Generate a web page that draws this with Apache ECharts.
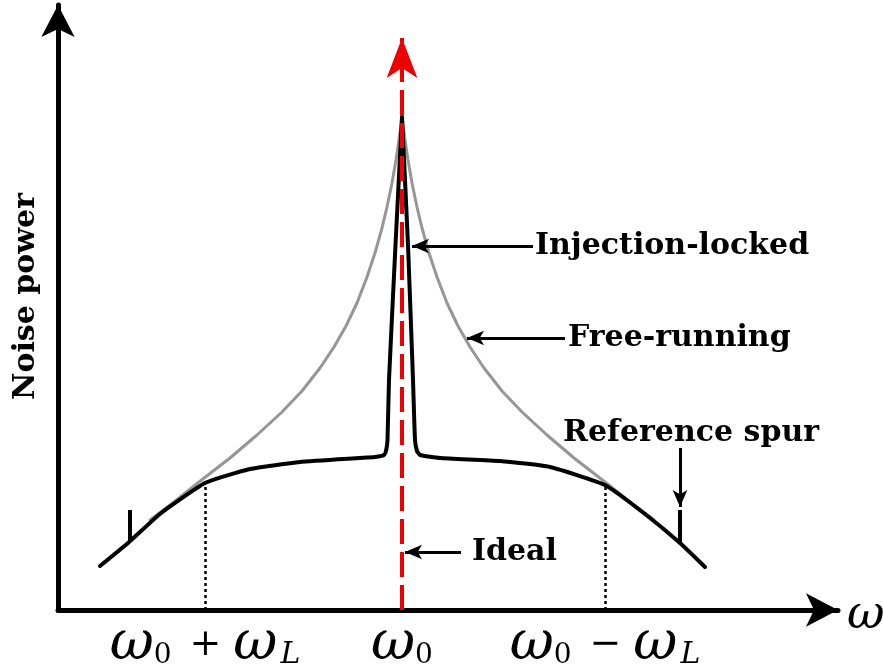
<!DOCTYPE html>
<html><head><meta charset="utf-8">
<script src="https://cdn.jsdelivr.net/npm/echarts@6/dist/echarts.min.js"></script>
<style>html,body{margin:0;padding:0;background:#fff}#c{width:883px;height:670px}</style>
</head><body><div id="c"></div>
<script>
// ---- data (x: frequency offset from omega0, y: noise power, arbitrary units) ----
const freeRunningX = [-0.63,-0.57,-0.5075,-0.43,-0.3625,-0.30,-0.25,-0.205,-0.17,-0.14,-0.1125,-0.0875,-0.0675,-0.05,-0.0375,-0.025,-0.015,-0.0075,0,
                      0.0075,0.015,0.025,0.0375,0.05,0.0675,0.0875,0.1125,0.14,0.17,0.205,0.25,0.30,0.3625,0.43,0.5075,0.57,0.63];
const freeRunningY = [0.90,1.08,1.28,1.52,1.75,1.98,2.19,2.42,2.63,2.84,3.07,3.33,3.57,3.82,4.03,4.27,4.50,4.70,4.93,
                      4.70,4.50,4.27,4.03,3.82,3.57,3.33,3.07,2.84,2.63,2.42,2.19,1.98,1.75,1.52,1.28,1.08,0.90];
const lockedX = [-0.755,-0.685,-0.605,-0.4925,-0.38,-0.255,-0.105,-0.0675,-0.045,-0.04,-0.03625,-0.0325,-0.01625,0,0.015,0.0275,0.0325,0.0375,0.045,0.095,0.245,0.37,0.5075,0.6075,0.695,0.7575];
const lockedY = [0.44,0.67,0.96,1.27,1.41,1.48,1.52,1.53,1.55,1.59,1.70,2.30,3.65,4.93,3.65,2.30,1.70,1.59,1.55,1.52,1.49,1.43,1.25,0.96,0.67,0.43];
const idealX = 0, idealTop = 5.72;
const tickValues = [-0.4925, 0, 0.5075];
const tickLabels = ['ω0 + ωL', 'ω0', 'ω0 − ωL'];
const spurX = [-0.68, 0.695];
const spurBase = [0.69, 0.68];
const spurTop = 1.0;
const lockBandX = [-0.4925, 0.5075];
const lockBandY = [1.27, 1.25];
const annotations = [
  {name: 'Injection-locked', value: [0.3325, 3.64], from: [0.3275, 3.64], to: [0.025, 3.64]},
  {name: 'Free-running', value: [0.415, 2.72], from: [0.4075, 2.72], to: [0.1625, 2.72]},
  {name: 'Reference spur', value: [0.4025, 1.77], from: [0.695, 1.62], to: [0.695, 1.03]},
  {name: 'Ideal', value: [0.175, 0.58], from: [0.1475, 0.58], to: [0.0075, 0.58]}
];

const zip = (xs, ys) => xs.map((x, i) => [x, ys[i]]);
const leftHalf = pts => pts.filter(p => p[0] <= 0);
const rightHalf = pts => pts.filter(p => p[0] >= 0);
const toRich = s => s.replace(/ω/g, '{w|ω}').replace(/([0L])/g, m => m === '0' ? '{s|0}' : '{sl|L}').replace(/ ([+−]) /g, '{o|$1}');

const freePts = zip(freeRunningX, freeRunningY);
const lockPts = zip(lockedX, lockedY);
const chart = echarts.init(document.getElementById('c'), null, {renderer: 'canvas'});
const serif = 'DejaVu Serif';
const curve = (name, pts, color, width, z, smooth) => ({
  type: 'line', name, data: pts, z, silent: true, showSymbol: false, symbol: 'none',
  smooth, lineStyle: {color, width, join: 'round', cap: 'round'}
});
chart.setOption({
  animation: false,
  backgroundColor: '#ffffff',
  grid: {left: 58, right: 45, top: 5, bottom: 60, containLabel: false, outerBoundsMode: 'none'},
  xAxis: {
    type: 'value', min: -0.86, max: 1.09,
    axisLine: {show: true, onZero: false, symbol: ['none', 'arrow'], symbolSize: [25, 32], lineStyle: {color: '#000', width: 5}},
    axisTick: {show: false}, splitLine: {show: false},
    name: 'ω', nameLocation: 'end', nameGap: 9,
    nameTextStyle: {fontFamily: serif, fontStyle: 'italic', fontSize: 46, color: '#000', verticalAlign: 'top', lineHeight: 12},
    axisLabel: {
      customValues: tickValues, margin: 10,
      formatter: v => { const i = tickValues.findIndex(t => Math.abs(t - v) < 1e-6); return i < 0 ? '' : toRich(tickLabels[i]); },
      rich: {
        w: {fontFamily: serif, fontStyle: 'italic', fontSize: 54, color: '#000', lineHeight: 50},
        s: {fontFamily: serif, fontSize: 28, color: '#000', lineHeight: 28, verticalAlign: 'bottom'},
        sl: {fontFamily: serif, fontStyle: 'italic', fontSize: 30, color: '#000', lineHeight: 28, verticalAlign: 'bottom', padding: [0, 0, 0, 3]},
        o: {fontFamily: serif, fontSize: 38, color: '#000', lineHeight: 50, padding: [0, 12, 0, 18]}
      }
    }
  },
  yAxis: {
    type: 'value', min: 0, max: 6.05,
    axisLine: {show: true, onZero: false, symbol: ['none', 'arrow'], symbolSize: [25, 32], lineStyle: {color: '#000', width: 5}},
    axisTick: {show: false}, axisLabel: {show: false}, splitLine: {show: false},
    name: 'Noise power', nameLocation: 'middle', nameRotate: 90, nameGap: 17,
    nameTextStyle: {fontFamily: serif, fontWeight: 'bold', fontSize: 30, color: '#000', padding: [0, 0, 0, 22]}
  },
  series: [
    {
      type: 'line', name: 'ideal', data: [], z: 1, silent: true,
      markLine: {
        silent: true, animation: false, label: {show: false}, symbol: ['none', 'arrow'], symbolSize: [23, 40],
        lineStyle: {color: '#ee0000', width: 4, type: [25, 8]},
        data: [[{coord: [idealX, 0]}, {coord: [idealX, idealTop]}]]
      }
    },
    curve('Free-running', leftHalf(freePts), '#969696', 3, 2, false),
    curve('Free-running ', rightHalf(freePts), '#969696', 3, 2, false),
    curve('Injection-locked', leftHalf(lockPts), '#000', 4, 3, 0.15),
    curve('Injection-locked ', rightHalf(lockPts), '#000', 4, 3, 0.15),
    {
      type: 'line', name: 'marks', data: [], z: 4, silent: true,
      markLine: {
        silent: true, animation: false, label: {show: false}, symbol: ['none', 'none'],
        lineStyle: {color: '#000', width: 4, type: 'solid'},
        data: spurX.map((x, i) => [{coord: [x, spurBase[i]]}, {coord: [x, spurTop]}])
          .concat(lockBandX.map((x, i) => [{coord: [x, 0], lineStyle: {width: 2.5, type: [3, 3]}}, {coord: [x, lockBandY[i]]}]))
      }
    },
    {
      type: 'line', name: 'arrows', data: [], z: 5, silent: true,
      markLine: {
        silent: true, animation: false, label: {show: false}, symbol: ['none', 'arrow'], symbolSize: [11, 17],
        lineStyle: {color: '#000', width: 3, type: 'solid'},
        data: annotations.map(a => [{coord: a.from}, {coord: a.to}])
      }
    },
    {
      type: 'scatter', name: 'labels', z: 6, silent: true, symbolSize: 0,
      itemStyle: {opacity: 1},
      data: annotations.map(a => ({name: a.name, value: a.value})),
      label: {show: true, position: 'right', distance: 0, opacity: 1, formatter: '{t|{b}}',
        rich: {t: {fontFamily: serif, fontWeight: 'bold', fontSize: 30, color: '#000', opacity: 1}}}
    }
  ]
});
</script></body></html>
